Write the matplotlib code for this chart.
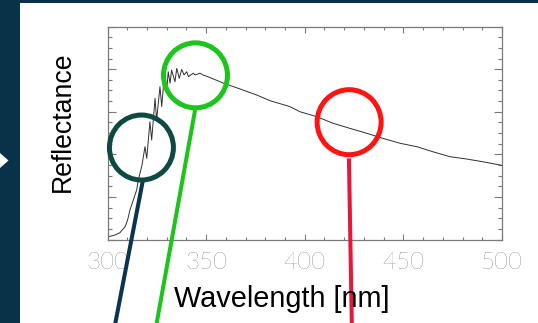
import matplotlib.pyplot as plt
from matplotlib.patches import Ellipse, Polygon, Rectangle
from matplotlib.ticker import MultipleLocator

# spectrum (nm, normalised reflectance)
wavelength = [300.0, 303.8, 306.3, 308.9, 310.2, 311.4, 313.1, 314.8, 315.6, 316.5,
              317.5, 319.0, 319.9, 321.5, 322.4, 324.1, 324.9, 326.6, 327.5, 328.8,
              330.0, 330.8, 331.7, 332.5, 334.2, 335.1, 336.4, 337.6, 338.8, 340.2,
              341.0, 343.5, 344.4, 346.9, 348.4, 351.9, 358.6, 367.2, 375.6, 382.4,
              392.5, 397.6, 406.1, 414.3, 422.9, 431.4, 439.7, 448.3, 456.8, 465.0,
              473.6, 482.1, 490.4, 500.0]
reflectance = [0.012, 0.021, 0.032, 0.060, 0.092, 0.139, 0.186, 0.233, 0.280, 0.312,
               0.350, 0.436, 0.381, 0.553, 0.467, 0.663, 0.561, 0.718, 0.624, 0.773,
               0.702, 0.788, 0.734, 0.796, 0.741, 0.804, 0.757, 0.799, 0.773, 0.788,
               0.765, 0.781, 0.773, 0.781, 0.773, 0.761, 0.735, 0.707, 0.679, 0.652,
               0.624, 0.600, 0.577, 0.546, 0.522, 0.499, 0.475, 0.452, 0.436, 0.412,
               0.389, 0.378, 0.365, 0.348]

xticks = [300, 350, 400, 450, 500]
xtick_labels = ["300", "350", "400", "450", "500"]

# highlight rings (centre in data units) and the pointer lines under them
ring_centers = [(317.2, 0.432), (344.6, 0.771), (422.5, 0.551)]
ring_colors = ["#0e4a41", "#1cc41c", "#ff1414"]
pointer_start = [(317.8, 0.271), (344.4, 0.608), (422.4, 0.381)]
pointer_end = [(303.4, -0.42), (324.4, -0.42), (423.9, -0.42)]
pointer_colors = ["#0b3450", "#1cc41c", "#e8173a"]

navy = "#083248"
grey = "#7a7a7a"

fig = plt.figure(figsize=(5.38, 3.23), dpi=100)
fig.patch.set_facecolor("white")

# slide decoration: navy bar on the left and along the top, white arrow
fig.add_artist(Rectangle((0, 0), 20 / 538, 1, transform=fig.transFigure,
                         facecolor=navy, edgecolor="none"))
fig.add_artist(Rectangle((0, 1 - 2.5 / 323), 1, 2.5 / 323, transform=fig.transFigure,
                         facecolor=navy, edgecolor="none"))
fig.add_artist(Polygon([(0, 1 - 153 / 323), (8.5 / 538, 1 - 160.5 / 323), (0, 1 - 168 / 323)],
                       closed=True, transform=fig.transFigure,
                       facecolor="white", edgecolor="none"))

ax = fig.add_axes([107.5 / 538, 1 - 239.5 / 323, 394.5 / 538, 212.9 / 323])
ax.plot(wavelength, reflectance, color="#303030", lw=0.7, zorder=2)

ax.set_xlim(300, 500)
ax.set_ylim(0, 1)
ax.xaxis.set_major_locator(MultipleLocator(50))
ax.xaxis.set_minor_locator(MultipleLocator(10))
ax.yaxis.set_major_locator(MultipleLocator(0.2))
ax.yaxis.set_minor_locator(MultipleLocator(0.05))
ax.set_xticks(xticks)
ax.set_xticklabels(xtick_labels)
ax.set_yticklabels([])
ax.tick_params(which="both", direction="in", top=True, right=True, colors=grey, width=0.8)
ax.tick_params(axis="x", which="major", length=4, pad=9)
ax.tick_params(axis="x", which="minor", length=2.5)
ax.tick_params(axis="y", which="major", length=6)
ax.tick_params(axis="y", which="minor", length=3)
for lab in ax.get_xticklabels():
    lab.set_fontfamily(["Lato", "Roboto", "DejaVu Sans"])
    lab.set_fontweight(200)
    lab.set_fontsize(17.5)
    lab.set_color("#4a4a4a")
for sp in ax.spines.values():
    sp.set_color(grey)
    sp.set_linewidth(0.9)

fig.text(281.5 / 538, 1 - 307 / 323, "Wavelength [nm]", ha="center", va="baseline",
         fontsize=20.8, family=["Liberation Sans", "DejaVu Sans"], color="black")
fig.text(63 / 538, 1 - 121.7 / 323, "Reflectance", ha="center", va="center", rotation=90,
         fontsize=19.2, family=["Liberation Sans", "DejaVu Sans"], color="black")

# rings are ~64 px across: convert to data units of this axes
ring_w = 64 / 394.5 * 200
ring_h = 65 / 212.9
for (cx, cy), c in zip(ring_centers, ring_colors):
    ax.add_patch(Ellipse((cx, cy), ring_w, ring_h, facecolor="none", edgecolor=c,
                         lw=3.6, clip_on=False, zorder=5))
for (x0, y0), (x1, y1), c in zip(pointer_start, pointer_end, pointer_colors):
    ax.plot([x0, x1], [y0, y1], color=c, lw=2.9, clip_on=False, zorder=4,
            solid_capstyle="butt")

fig.savefig("out.png", dpi=100)
